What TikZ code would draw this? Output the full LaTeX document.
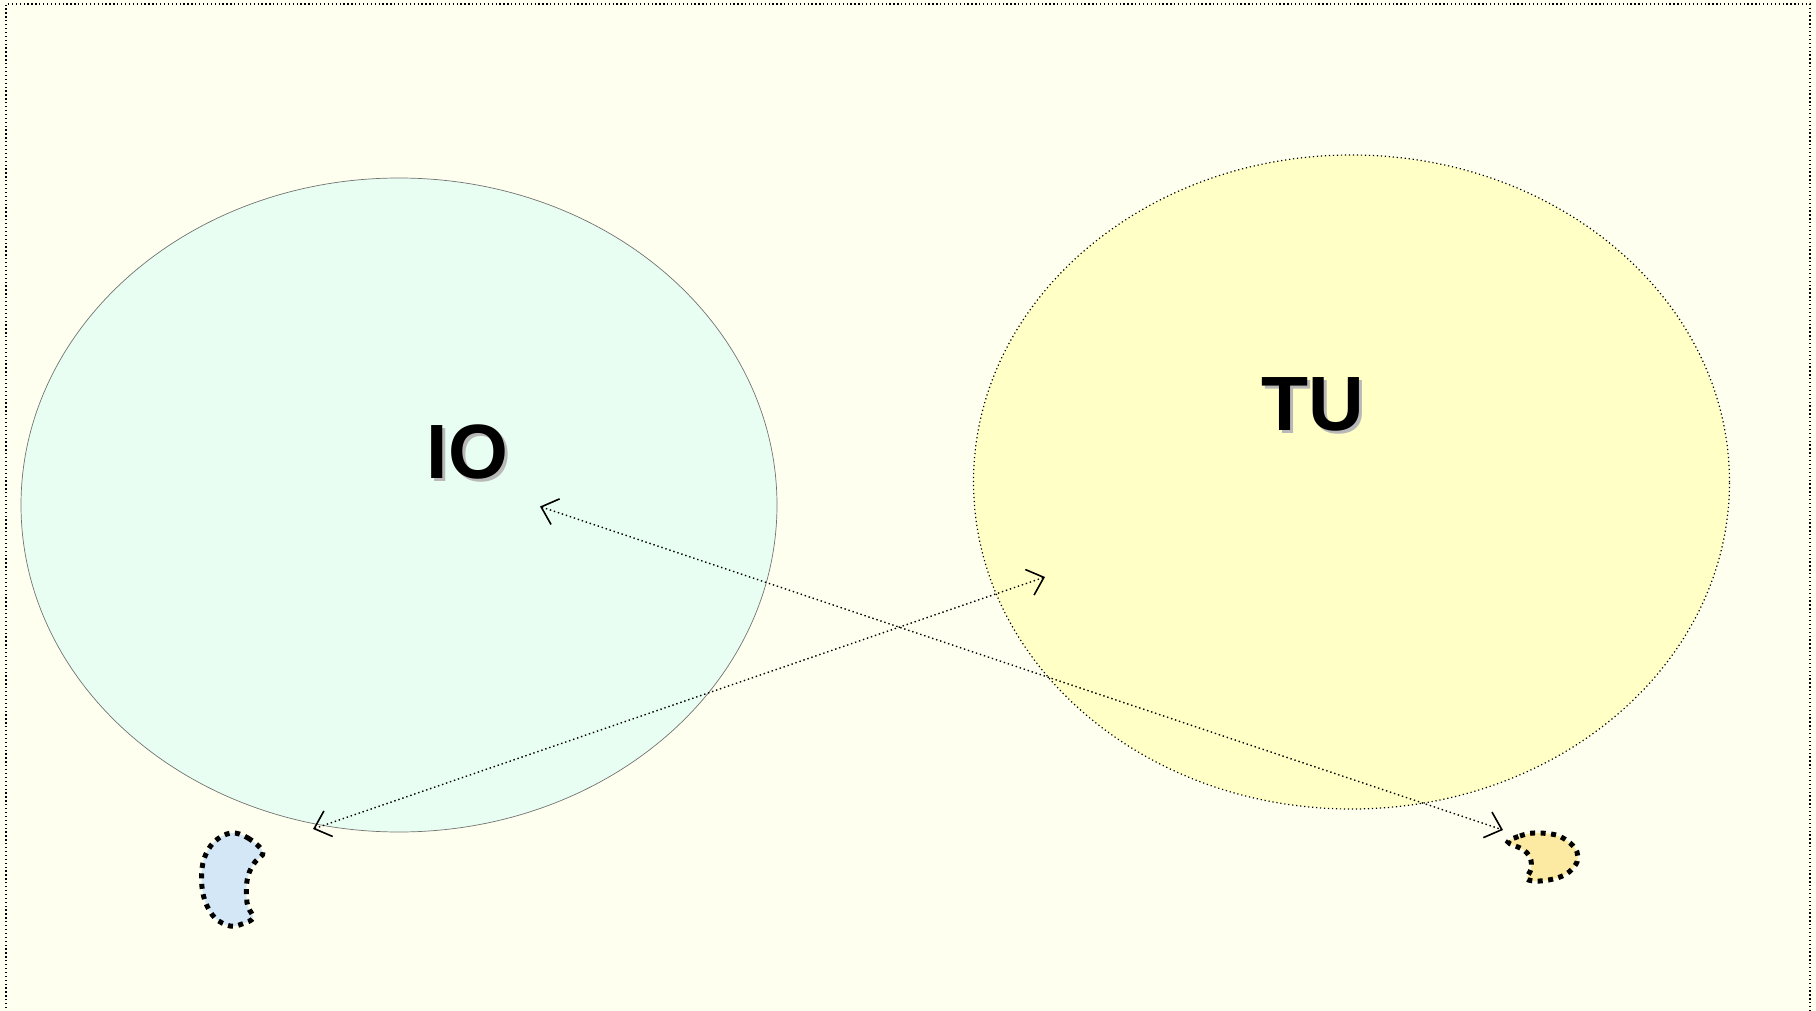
\documentclass[tikz,border=0pt]{standalone}
\usepackage{fontspec}
\setmainfont{Liberation Sans}
\usetikzlibrary{shapes.geometric,arrows.meta}
\definecolor{bgc}{HTML}{FFFFEF}
\definecolor{iofill}{HTML}{E9FEF2}
\definecolor{tufill}{HTML}{FFFFC6}
\definecolor{blueblob}{HTML}{D3E7F7}
\definecolor{yellowblob}{HTML}{FCE9A2}
\definecolor{shadowc}{HTML}{B8B8B8}
\tikzset{
  setellipse/.style={ellipse, inner sep=0pt, minimum width=756pt, minimum height=654pt},
  biglabel/.style={font=\fontsize{77}{77}\selectfont\bfseries, inner sep=0pt},
  shadowlabel/.style={biglabel, text=shadowc},
  link/.style={line width=1.4pt, dash pattern=on 1.4pt off 2.8pt,
    {Straight Barb[length=15pt,width=27pt,line width=1.6pt]}-{Straight Barb[length=15pt,width=27pt,line width=1.6pt]}},
  blob/.style={line width=5pt, dash pattern=on 5pt off 5.5pt, draw=black},
}
\begin{document}
\begin{tikzpicture}[x=1pt,y=-1pt]
\useasboundingbox (0,0) rectangle (1816,1011);
\fill[bgc] (0,0) rectangle (1816,1011);
\draw[line width=1.3pt, dash pattern=on 1.3pt off 2.6pt] (6,1016) -- (6,4) -- (1810,4) -- (1810,1016);
% sets
\node[setellipse, fill=iofill, draw=black!55, line width=0.7pt] (io) at (399,505) {};
\node[setellipse, fill=tufill, draw=black, line width=1.2pt, dash pattern=on 1.2pt off 2.8pt] (tu) at (1351.5,482) {};
% labels
\node[shadowlabel] at (470.5,455) {IO};
\node[biglabel] (iolabel) at (467.5,452) {IO};
\node[shadowlabel] at (1316,407) {TU};
\node[biglabel] (tulabel) at (1313,404) {TU};
% blobs
\draw[blob, fill=blueblob] plot[smooth cycle, tension=0.6] coordinates {
  (231,833) (248,838) (263,852) (255,862) (249,873) (246.5,885) (246.5,897)
  (248,907) (253,918) (242,924) (230,926) (215,918) (205,901) (201.5,880) (204,859) (214,842)};
\draw[blob, fill=yellowblob] plot[smooth cycle, tension=0.6] coordinates {
  (1508,842) (1520,836) (1534,833) (1556,835) (1570,843) (1577,852) (1577,862)
  (1569,872) (1557,878) (1540,881) (1527,879) (1531,869) (1530,857) (1522,849)};
% arrows
\coordinate (a1s) at (313,829);
\coordinate (a1e) at (1045,577);
\coordinate (a2s) at (540,506.5);
\coordinate (a2e) at (1503,830);
\draw[link] (a1s) -- (a1e);
\draw[link] (a2s) -- (a2e);
\end{tikzpicture}
\end{document}
